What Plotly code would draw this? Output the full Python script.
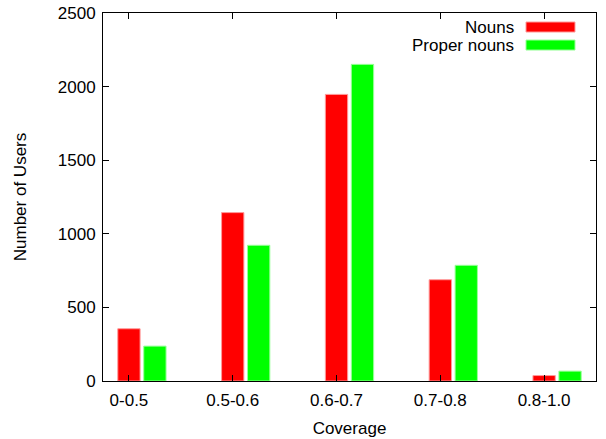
import plotly.graph_objects as go

categories = ["0-0.5", "0.5-0.6", "0.6-0.7", "0.7-0.8", "0.8-1.0"]
nouns = [355, 1144, 1947, 688, 37]
proper_nouns = [237, 922, 2151, 786, 67]

xs = list(range(len(categories)))
offset = 0.25
bw = 0.215

fig = go.Figure()
fig.add_trace(go.Bar(x=[i for i in xs], y=nouns, width=bw, name="Nouns",
                     marker=dict(color="#ff0000", line=dict(color="#ff9a9a", width=1))))
fig.add_trace(go.Bar(x=[i + offset for i in xs], y=proper_nouns, width=bw, name="Proper nouns",
                     marker=dict(color="#00ff00", line=dict(color="#9aff9a", width=1))))

font = dict(family="Liberation Sans, Arial, sans-serif", size=17, color="black")

fig.update_layout(
    width=606, height=439,
    margin=dict(l=103, r=10, t=13, b=58, autoexpand=False),
    plot_bgcolor="white", paper_bgcolor="white",
    showlegend=False, barmode="overlay",
    font=font,
    xaxis=dict(range=[-0.25, 4.5], tickvals=xs, ticktext=categories, automargin=False,
               ticks="inside", ticklen=6, tickcolor="black", mirror="ticks",
               ticklabelstandoff=4,
               showline=True, linecolor="black", linewidth=1, showgrid=False, zeroline=False,
               title=dict(text="Coverage", font=font, standoff=12)),
    yaxis=dict(range=[0, 2500], tickvals=[0, 500, 1000, 1500, 2000, 2500], automargin=False,
               ticks="inside", ticklen=6, tickcolor="black", mirror="ticks",
               ticklabelstandoff=3,
               showline=True, linecolor="black", linewidth=1, showgrid=False, zeroline=False,
               title=dict(text="Number of Users", font=font, standoff=26)),
)

# legend drawn manually (text left of sample, gnuplot style)
legend_items = [("Nouns", "#ff0000", "#ff9a9a"), ("Proper nouns", "#00ff00", "#9aff9a")]
for k, (label, col, edge) in enumerate(legend_items):
    yc = 27 + 18 * k
    fig.add_shape(type="rect", xref="paper", yref="paper",
                  x0=(526 - 103) / 493, x1=(575 - 103) / 493,
                  y0=(380.5 - (yc + 5)) / 367.5, y1=(380.5 - (yc - 5)) / 367.5,
                  fillcolor=col, line=dict(color=edge, width=1))
    fig.add_annotation(xref="paper", yref="paper", x=(516 - 103) / 493,
                       y=(380.5 - yc) / 367.5, text=label, showarrow=False,
                       xanchor="right", yanchor="middle", font=font)

fig.write_html("out.html", config={"displayModeBar": False},
               post_script="document.body.style.margin='0';document.body.style.overflow='hidden';")
